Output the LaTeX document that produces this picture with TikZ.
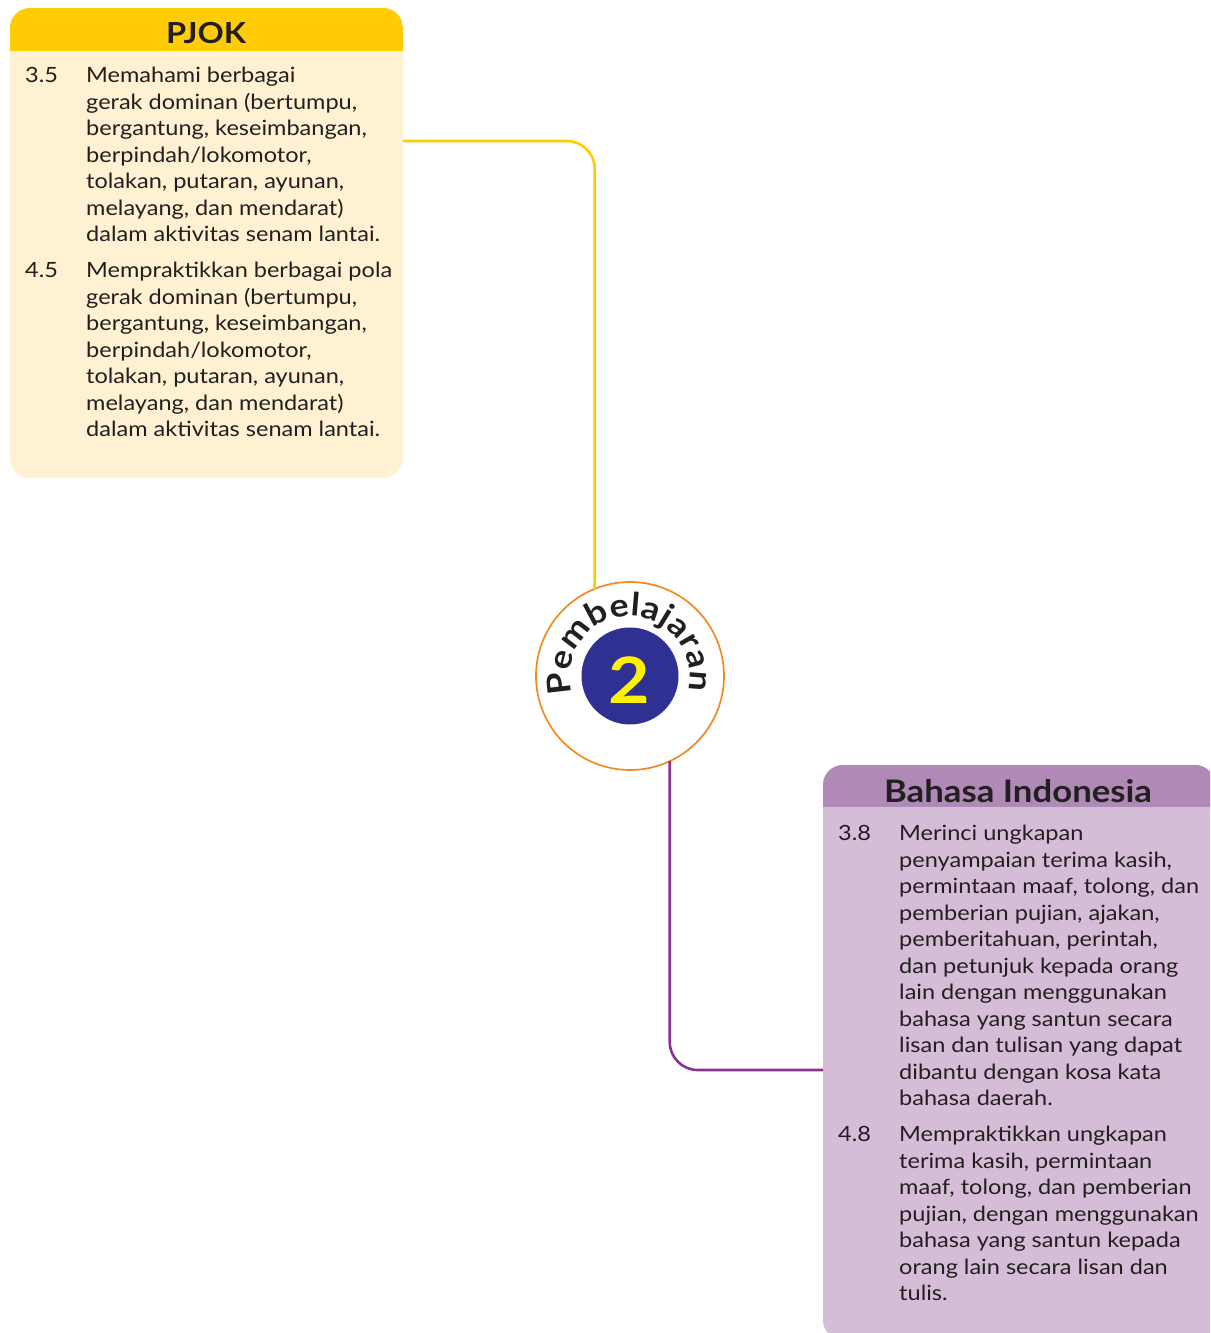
\documentclass[tikz,border=0pt]{standalone}
\usepackage{fontspec}
\setmainfont{Lato}[FakeStretch=1.12]
\usetikzlibrary{calc,decorations.text}
\definecolor{ink}{HTML}{231F20}
\definecolor{pjokhead}{HTML}{FFCC05}
\definecolor{pjokbody}{HTML}{FFF1D2}
\definecolor{yconn}{HTML}{FFCC00}
\definecolor{bihead}{HTML}{B089B6}
\definecolor{bibody}{HTML}{D5BDD7}
\definecolor{pconn}{HTML}{8A338E}
\definecolor{ringorange}{HTML}{F08A24}
\definecolor{discblue}{HTML}{2E3192}
\definecolor{numyellow}{HTML}{FFF200}
\newcommand{\bodyfont}{\fontsize{21}{26.5}\selectfont}
\newcommand{\pembfont}{\fontsize{32}{32}\selectfont\bfseries}
\tikzset{
  panel/.style={rectangle, rounded corners=20pt, inner sep=0pt, outer sep=0pt},
  headtext/.style={anchor=base, inner sep=0pt, text=ink, font=\bfseries},
  numtext/.style={anchor=base west, inner sep=0pt, text=ink, font=\bodyfont},
  itemtext/.style={anchor=base west, inner sep=0pt, text=ink, font=\bodyfont},
  connector/.style={line width=2.6pt, rounded corners=28pt},
}
\begin{document}
\begin{tikzpicture}[x=1pt,y=1pt]
\path[use as bounding box] (0,0) rectangle (1210,1333);
\clip (0,0) rectangle (1210,1333);

% PJOK panel
\node[panel, fill=pjokbody, minimum width=393pt, minimum height=470pt, anchor=north west] (pjok) at (10,1325) {};
\begin{scope}
  \clip[rounded corners=20pt] (pjok.south west) rectangle (pjok.north east);
  \fill[pjokhead] (pjok.north west) rectangle ($(pjok.north east)+(0,-43)$);
\end{scope}
\node[headtext, font=\fontsize{29}{29}\selectfont\bfseries] (pjokhd) at (206,1289) {PJOK};
\node[numtext] (p35n) at (25,1250) {3.5};
\node[itemtext] (p35) at (86,1250) {\parbox[t]{320pt}{\raggedright
Memahami berbagai\\
gerak dominan (bertumpu,\\
bergantung, keseimbangan,\\
berpindah/lokomotor,\\
tolakan, putaran, ayunan,\\
melayang, dan mendarat)\\
dalam aktivitas senam lantai.}};
\node[numtext] (p45n) at (25,1055) {4.5};
\node[itemtext] (p45) at (86,1055) {\parbox[t]{320pt}{\raggedright
Mempraktikkan berbagai pola\\
gerak dominan (bertumpu,\\
bergantung, keseimbangan,\\
berpindah/lokomotor,\\
tolakan, putaran, ayunan,\\
melayang, dan mendarat)\\
dalam aktivitas senam lantai.}};

% Bahasa Indonesia panel
\node[panel, fill=bibody, minimum width=392pt, minimum height=575pt, anchor=north west] (bi) at (823,568) {};
\begin{scope}
  \clip[rounded corners=20pt] (bi.south west) rectangle (bi.north east);
  \fill[bihead] (bi.north west) rectangle ($(bi.north east)+(0,-42)$);
\end{scope}
\node[headtext, font=\fontsize{31}{31}\selectfont\bfseries] (bihd) at (1018,530) {Bahasa Indonesia};
\node[numtext] (b38n) at (838,492) {3.8};
\node[itemtext] (b38) at (899,492) {\parbox[t]{320pt}{\raggedright
Merinci ungkapan\\
penyampaian terima kasih,\\
permintaan maaf, tolong, dan\\
pemberian pujian, ajakan,\\
pemberitahuan, perintah,\\
dan petunjuk kepada orang\\
lain dengan menggunakan\\
bahasa yang santun secara\\
lisan dan tulisan yang dapat\\
dibantu dengan kosa kata\\
bahasa daerah.}};
\node[numtext] (b48n) at (838,191) {4.8};
\node[itemtext] (b48) at (899,191) {\parbox[t]{320pt}{\raggedright
Mempraktikkan ungkapan\\
terima kasih, permintaan\\
maaf, tolong, dan pemberian\\
pujian, dengan menggunakan\\
bahasa yang santun kepada\\
orang lain secara lisan dan\\
tulis.}};

% central badge
\node[circle, draw=ringorange, line width=1.7pt, fill=white, minimum size=188pt, inner sep=0pt, outer sep=0pt] (circ) at (630,657) {};
\node[circle, fill=discblue, minimum size=97pt, inner sep=0pt] (disc) at (630,657) {};
\node[inner sep=0pt, text=numyellow, font=\fontsize{64}{64}\selectfont\bfseries] (num) at (629,653) {2};
\path[decorate, decoration={text along path, text={|\pembfont\color{ink}|Pembelajaran}, text align={fit to path}}]
  (circ.center) ++(197:60) arc[start angle=197, end angle=-14, radius=60];

% connectors
\draw[connector, yconn] ($(pjok.north east)+(0,-133)$) -| (circ.112.5);
\draw[connector, pconn] (circ.-65.4) |- ($(bi.north west)+(0,-305)$);
\end{tikzpicture}
\end{document}
